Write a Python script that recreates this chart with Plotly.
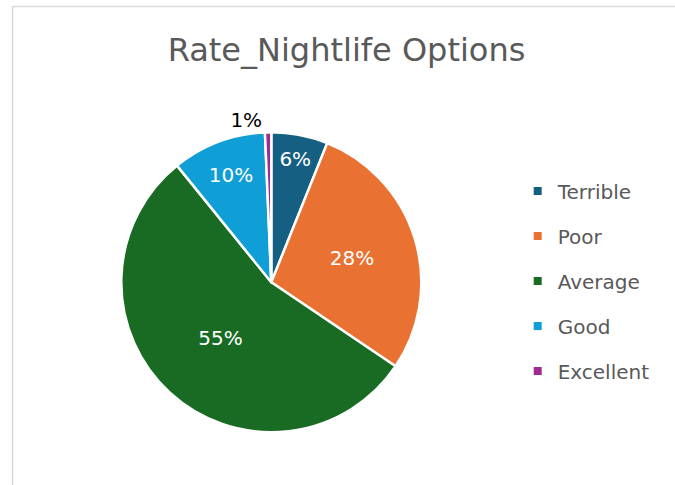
import plotly.graph_objects as go

# Survey responses: "Rate the nightlife options"
categories = ["Terrible", "Poor", "Average", "Good", "Excellent"]
counts = [9, 42, 81, 15, 1]
colors = ["#156082", "#E97132", "#196B24", "#0F9ED5", "#A02B93"]
title_text = "Rate_Nightlife Options"

W, H = 675, 485
FONT = "DejaVu Sans"
GREY = "#595959"


def px_x(x):
    return x / W


def px_y(y):
    return 1 - y / H


fig = go.Figure()

# Pie: the tiny "Excellent" slice gets its label outside, in black
text_pos = ["inside"] * (len(categories) - 1) + ["outside"]
text_col = ["white"] * (len(categories) - 1) + ["black"]

fig.add_trace(go.Pie(
    labels=categories,
    values=counts,
    sort=False,
    direction="clockwise",
    rotation=0,
    marker=dict(colors=colors, line=dict(color="white", width=2.5)),
    texttemplate="%{percent:.0%}",
    textposition=text_pos,
    textfont=dict(family=FONT, size=20, color=text_col),
    insidetextorientation="horizontal",
    showlegend=False,
    domain=dict(x=[px_x(121.3), px_x(421.3)], y=[px_y(432.3), px_y(132.3)]),
    hoverinfo="label+percent",
))

# Legend entries: one group per category so they can be spaced apart
for name, col in zip(categories, colors):
    fig.add_trace(go.Scatter(
        x=[None], y=[None], mode="markers", name=name,
        legendgroup=name,
        marker=dict(symbol="square", size=8, color=col),
    ))

fig.update_layout(
    width=W, height=H,
    margin=dict(l=0, r=0, t=0, b=0),
    paper_bgcolor="white",
    plot_bgcolor="white",
    xaxis=dict(visible=False),
    yaxis=dict(visible=False),
    title=dict(
        text=title_text,
        font=dict(family=FONT, size=32, color=GREY),
        x=px_x(346.5), xanchor="center",
        y=px_y(49.5), yanchor="middle",
        xref="paper", yref="paper",
    ),
    legend=dict(
        x=px_x(517.7), xanchor="left",
        y=px_y(171.5), yanchor="top",
        font=dict(family=FONT, size=20, color=GREY),
        tracegroupgap=16,
        bgcolor="rgba(0,0,0,0)",
    ),
    shapes=[
        # chart-area frame (top and left edges visible)
        dict(type="rect", xref="paper", yref="paper",
             x0=px_x(12.5), x1=px_x(700), y0=px_y(500), y1=px_y(6.5),
             line=dict(color="#D9D9D9", width=1.5), fillcolor="rgba(0,0,0,0)",
             layer="below"),
    ],
)

fig.write_html("out.html")
